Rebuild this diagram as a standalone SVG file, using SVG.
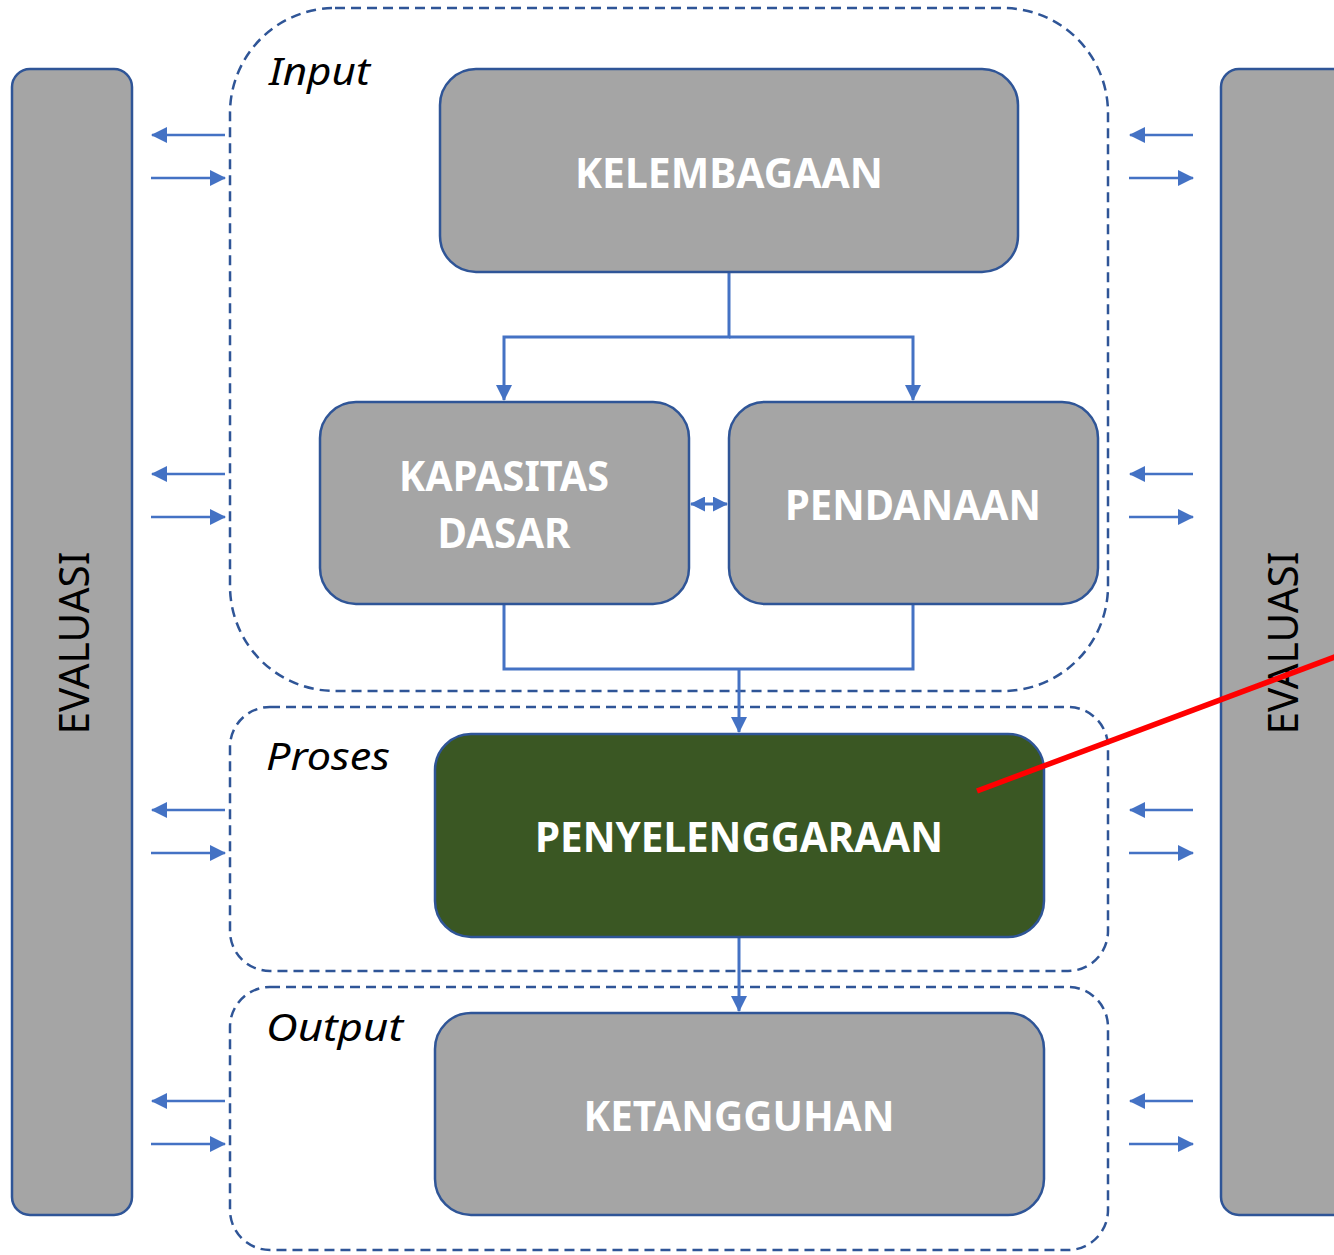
<svg xmlns="http://www.w3.org/2000/svg" width="1334" height="1255" viewBox="0 0 1334 1255">
<defs>
<style>
.box{fill:#A5A5A5;stroke:#2F5597;stroke-width:2.5}
.green{fill:#3A5723;stroke:#2F5597;stroke-width:2.5}
.dash{fill:none;stroke:#2F5597;stroke-width:2.5;stroke-dasharray:10 6}
.lbl{font-family:"Noto Sans","Open Sans",sans-serif;font-weight:bold;font-size:42px;fill:#FFFFFF;text-anchor:middle}
.ev{font-family:"Noto Sans","Open Sans",sans-serif;font-size:42px;fill:#000000;text-anchor:middle}
.stage{font-family:"Noto Sans","Open Sans",sans-serif;font-style:italic;font-size:39px;fill:#000000}
.con{fill:none;stroke:#4472C4;stroke-width:3}
.side{fill:none;stroke:#4472C4;stroke-width:2.5}
</style>
<marker id="ah" markerUnits="userSpaceOnUse" markerWidth="16" markerHeight="16" viewBox="0 0 16 16" refX="15" refY="8" orient="auto-start-reverse">
<path d="M0,0 L16,8 L0,16 z" fill="#4472C4"/>
</marker>
<marker id="ahs" markerUnits="userSpaceOnUse" markerWidth="15" markerHeight="15" viewBox="0 0 15 15" refX="14" refY="7.5" orient="auto-start-reverse">
<path d="M0,0 L15,7.5 L0,15 z" fill="#4472C4"/>
</marker>
</defs>

<g id="evaluasi-left">
<rect class="box" x="12" y="69" width="120" height="1146" rx="18"/>
<text class="ev" transform="translate(89,643) rotate(-90)" textLength="183" lengthAdjust="spacingAndGlyphs">EVALUASI</text>
</g>
<g id="evaluasi-right">
<rect class="box" x="1221" y="69" width="130" height="1146" rx="18"/>
<text class="ev" transform="translate(1298,643) rotate(-90)" textLength="183" lengthAdjust="spacingAndGlyphs">EVALUASI</text>
</g>

<g id="input-group">
<rect class="dash" x="230" y="8" width="878" height="683" rx="105"/>
<text class="stage" x="269" y="85" textLength="101" lengthAdjust="spacingAndGlyphs">Input</text>
</g>
<g id="proses-group">
<rect class="dash" x="230" y="707" width="878" height="264" rx="40"/>
<text class="stage" x="266" y="770" textLength="124" lengthAdjust="spacingAndGlyphs">Proses</text>
</g>
<g id="output-group">
<rect class="dash" x="230" y="987" width="878" height="263" rx="40"/>
<text class="stage" x="266" y="1041" textLength="137" lengthAdjust="spacingAndGlyphs">Output</text>
</g>

<g id="connectors">
<polyline class="con" points="729,272 729,337 504,337 504,400" marker-end="url(#ah)"/>
<polyline class="con" points="729,337 913,337 913,400" marker-end="url(#ah)"/>
<polyline class="con" points="504,604 504,669 913,669 913,604"/>
<line class="con" x1="739" y1="669" x2="739" y2="732" marker-end="url(#ah)"/>
<line class="con" x1="739" y1="937" x2="739" y2="1011" marker-end="url(#ah)"/>
<line class="con" x1="691" y1="504" x2="727" y2="504" marker-start="url(#ahs)" marker-end="url(#ahs)"/>

<line class="side" x1="225" y1="135" x2="152" y2="135" marker-end="url(#ah)"/>
<line class="side" x1="151" y1="178" x2="225" y2="178" marker-end="url(#ah)"/>
<line class="side" x1="225" y1="474" x2="152" y2="474" marker-end="url(#ah)"/>
<line class="side" x1="151" y1="517" x2="225" y2="517" marker-end="url(#ah)"/>
<line class="side" x1="225" y1="810" x2="152" y2="810" marker-end="url(#ah)"/>
<line class="side" x1="151" y1="853" x2="225" y2="853" marker-end="url(#ah)"/>
<line class="side" x1="225" y1="1101" x2="152" y2="1101" marker-end="url(#ah)"/>
<line class="side" x1="151" y1="1144" x2="225" y2="1144" marker-end="url(#ah)"/>

<line class="side" x1="1193" y1="135" x2="1130" y2="135" marker-end="url(#ah)"/>
<line class="side" x1="1129" y1="178" x2="1193" y2="178" marker-end="url(#ah)"/>
<line class="side" x1="1193" y1="474" x2="1130" y2="474" marker-end="url(#ah)"/>
<line class="side" x1="1129" y1="517" x2="1193" y2="517" marker-end="url(#ah)"/>
<line class="side" x1="1193" y1="810" x2="1130" y2="810" marker-end="url(#ah)"/>
<line class="side" x1="1129" y1="853" x2="1193" y2="853" marker-end="url(#ah)"/>
<line class="side" x1="1193" y1="1101" x2="1130" y2="1101" marker-end="url(#ah)"/>
<line class="side" x1="1129" y1="1144" x2="1193" y2="1144" marker-end="url(#ah)"/>
</g>

<g id="kelembagaan">
<rect class="box" x="440" y="69" width="578" height="203" rx="36"/>
<text class="lbl" x="729" y="188" textLength="308" lengthAdjust="spacingAndGlyphs">KELEMBAGAAN</text>
</g>
<g id="kapasitas-dasar">
<rect class="box" x="320" y="402" width="369" height="202" rx="36"/>
<text class="lbl" x="504" y="491" textLength="210" lengthAdjust="spacingAndGlyphs">KAPASITAS</text>
<text class="lbl" x="504" y="548" textLength="133" lengthAdjust="spacingAndGlyphs">DASAR</text>
</g>
<g id="pendanaan">
<rect class="box" x="729" y="402" width="369" height="202" rx="36"/>
<text class="lbl" x="913" y="520" textLength="256" lengthAdjust="spacingAndGlyphs">PENDANAAN</text>
</g>
<g id="penyelenggaraan">
<rect class="green" x="435" y="734" width="609" height="203" rx="36"/>
<text class="lbl" x="739" y="852" textLength="408" lengthAdjust="spacingAndGlyphs">PENYELENGGARAAN</text>
</g>
<g id="ketangguhan">
<rect class="box" x="435" y="1013" width="609" height="202" rx="36"/>
<text class="lbl" x="739" y="1131" textLength="311" lengthAdjust="spacingAndGlyphs">KETANGGUHAN</text>
</g>

<line id="pointer" x1="977" y1="791" x2="1340" y2="655" stroke="#FF0000" stroke-width="5.5"/>
</svg>
